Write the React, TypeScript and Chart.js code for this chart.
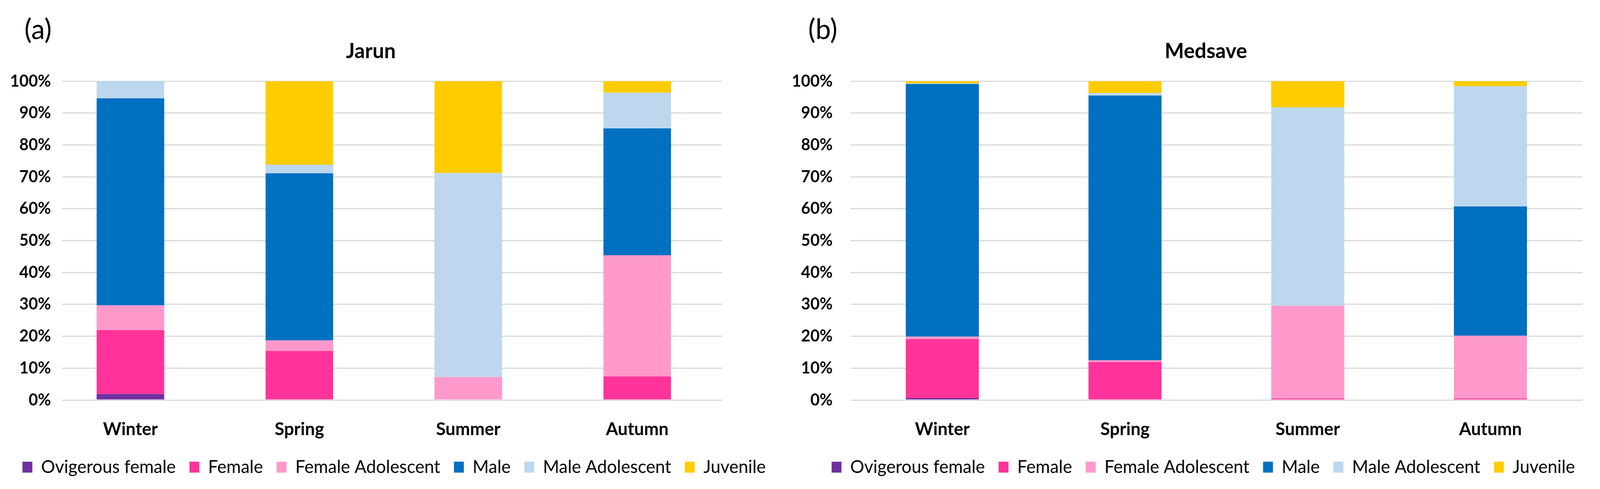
import React, { useEffect, useRef } from 'react';
import { Chart, registerables } from 'chart.js';

Chart.register(...registerables);

// ---------- data ----------
const categories = ['Winter', 'Spring', 'Summer', 'Autumn'];
const seriesNames = ['Ovigerous female', 'Female', 'Female Adolescent', 'Male', 'Male Adolescent', 'Juvenile'];
const seriesColors = ['#7030A0', '#FF3399', '#FF99CC', '#0070C0', '#BDD7EE', '#FFCC00'];
const yTickValues = [0, 10, 20, 30, 40, 50, 60, 70, 80, 90, 100];

// Jarun (a) — percent per season
const jarunOvigerous = [1.9, 0, 0, 0];
const jarunFemale = [20.0, 15.4, 0, 7.4];
const jarunFemaleAdol = [7.8, 3.3, 7.2, 38.0];
const jarunMale = [64.9, 52.4, 0, 39.8];
const jarunMaleAdol = [5.4, 2.7, 64.0, 11.2];
const jarunJuvenile = [0, 26.2, 28.8, 3.6];

// Medsave (b)
const medsaveOvigerous = [0.6, 0, 0, 0];
const medsaveFemale = [18.5, 11.9, 0.5, 0.5];
const medsaveFemaleAdol = [0.8, 0.6, 29.1, 19.7];
const medsaveMale = [79.2, 83.0, 0, 40.5];
const medsaveMaleAdol = [0.2, 0.8, 62.2, 37.7];
const medsaveJuvenile = [0.7, 3.7, 8.2, 1.6];

const jarunSeries = [jarunOvigerous, jarunFemale, jarunFemaleAdol, jarunMale, jarunMaleAdol, jarunJuvenile];
const medsaveSeries = [medsaveOvigerous, medsaveFemale, medsaveFemaleAdol, medsaveMale, medsaveMaleAdol, medsaveJuvenile];

const FONT = 'Lato';
const W = 4206;
const H = 1253;
// the photographed viewport is narrower than 4206 px; fit the whole figure into it
const VIEW_W = 4096;
const SX = Math.min(1, VIEW_W / W);

type PanelCfg = {
  left: number;
  width: number;
  yAxisWidth: number;
  yPad: number;
  rightWidth: number;
  xMin: number;
  xMax: number;
  series: number[][];
};

function Panel({ cfg }: { cfg: PanelCfg }) {
  const ref = useRef<HTMLCanvasElement | null>(null);
  useEffect(() => {
    if (!ref.current) return;
    const datasets = seriesNames.map((name, si) => ({
      label: name,
      data: cfg.series[si].map((v, i) => ({ x: i, y: v })),
      backgroundColor: seriesColors[si],
      borderWidth: 0,
      categoryPercentage: 1,
      barPercentage: 0.4,
      xAxisID: 'x',
      yAxisID: 'y',
    }));
    const chart = new Chart(ref.current, {
      type: 'bar',
      data: { datasets } as any,
      options: {
        animation: false,
        responsive: false,
        devicePixelRatio: 1,
        layout: { padding: { top: 208, bottom: 23, left: 0, right: 0 } },
        plugins: {
          tooltip: { enabled: false },
          title: { display: false },
          legend: {
            display: true,
            position: 'bottom',
            labels: {
              font: { family: FONT, size: 46 },
              color: '#000',
              boxWidth: 26,
              boxHeight: 28,
              padding: 36,
            },
          },
        },
        scales: {
          x: {
            type: 'linear',
            stacked: true,
            min: cfg.xMin,
            max: cfg.xMax,
            offset: false,
            grid: { display: false, offset: false },
            border: { display: false },
            afterBuildTicks: (s: any) => {
              s.ticks = categories.map((_, i) => ({ value: i }));
            },
            afterFit: (s: any) => {
              s.height = 113;
            },
            ticks: {
              autoSkip: false,
              maxRotation: 0,
              padding: 40,
              color: '#000',
              font: { family: FONT, size: 46, weight: 'bold' },
              callback: (v: any) => categories[Math.round(Number(v))] ?? '',
            },
          },
          y: {
            type: 'linear',
            stacked: true,
            min: 0,
            max: 100,
            position: 'left',
            afterBuildTicks: (s: any) => {
              s.ticks = yTickValues.map((v) => ({ value: v }));
            },
            afterFit: (s: any) => {
              s.width = cfg.yAxisWidth;
            },
            grid: { color: '#D9D9D9', lineWidth: 3, drawTicks: false },
            border: { display: false },
            ticks: {
              padding: cfg.yPad,
              color: '#000',
              font: { family: FONT, size: 42, weight: 'bold' },
              callback: (v: any) => `${v}%`,
            },
          },
          yr: {
            type: 'linear',
            axis: 'y',
            position: 'right',
            display: true,
            grid: { display: false, drawTicks: false },
            border: { display: false },
            ticks: { display: false },
            afterFit: (s: any) => {
              s.width = cfg.rightWidth;
            },
          },
        },
      } as any,
    });
    return () => chart.destroy();
  }, [cfg]);
  return (
    <canvas
      ref={ref}
      width={cfg.width}
      height={H}
      style={{ position: 'absolute', left: cfg.left, top: 0, width: cfg.width, height: H }}
    />
  );
}

const panelA: PanelCfg = {
  left: 0,
  width: 2072,
  yAxisWidth: 163,
  yPad: 29,
  rightWidth: 174,
  xMin: -0.405,
  xMax: 3.502,
  series: jarunSeries,
};

const panelB: PanelCfg = {
  left: 2040,
  width: 2246,
  yAxisWidth: 197,
  yPad: 48,
  rightWidth: 126,
  xMin: -0.5,
  xMax: 3.504,
  series: medsaveSeries,
};

const textStyle = (x: number, y: number, size: number, weight: number): React.CSSProperties => ({
  position: 'absolute',
  left: x,
  top: y,
  transform: 'translate(-50%, -50%)',
  fontFamily: FONT,
  fontSize: size,
  fontWeight: weight,
  color: '#000',
  whiteSpace: 'nowrap',
  lineHeight: 1,
});

export default function App() {
  return (
    <div
      style={{
        position: 'absolute',
        left: 0,
        top: 0,
        width: W,
        height: H,
        background: '#fff',
        overflow: 'hidden',
        transform: `scaleX(${SX})`,
        transformOrigin: '0 0',
      }}
    >
      <Panel cfg={panelA} />
      <Panel cfg={panelB} />
      <div style={textStyle(100, 72, 72, 400)}>(a)</div>
      <div style={textStyle(2163, 72, 72, 400)}>(b)</div>
      <div style={textStyle(975, 129, 54, 700)}>Jarun</div>
      <div style={textStyle(3170, 129, 54, 700)}>Medsave</div>
    </div>
  );
}
